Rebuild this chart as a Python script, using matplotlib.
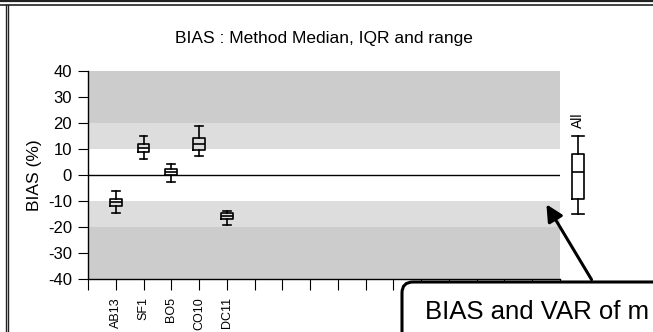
import matplotlib
matplotlib.use("Agg")
import matplotlib.pyplot as plt
from matplotlib.lines import Line2D
from matplotlib.patches import FancyBboxPatch, FancyArrowPatch

plt.rcParams["font.family"] = ["Liberation Sans", "DejaVu Sans"]
plt.rcParams["axes.unicode_minus"] = False

# per-method summaries of BIAS (%)
methods = ["AB13", "SF1", "BO5", "CO10", "DC11"]
medians = [-10.5, 10.4, 1.2, 11.9, -15.8]
q1 = [-12.0, 8.7, 0.1, 9.5, -16.9]
q3 = [-9.2, 12.0, 2.4, 14.2, -14.6]
whislo = [-14.6, 6.2, -2.8, 7.2, -19.1]
whishi = [-6.3, 15.1, 4.2, 18.7, -13.7]

# all methods pooled
all_stats = {"med": 1.3, "q1": -9.1, "q3": 8.2, "whislo": -15.0, "whishi": 15.0}

n_slots = 17
inner_limit = 10
outer_limit = 20
y_max = 40

fig = plt.figure(figsize=(6.53, 3.32), dpi=100)
ax = fig.add_axes([88 / 653, 53 / 332, 472 / 653, 208 / 332])

ax.axhspan(outer_limit, y_max, color="#cccccc", lw=0, zorder=0)
ax.axhspan(-y_max, -outer_limit, color="#cccccc", lw=0, zorder=0)
ax.axhspan(inner_limit, outer_limit, color="#dddddd", lw=0, zorder=0)
ax.axhspan(-outer_limit, -inner_limit, color="#dddddd", lw=0, zorder=0)
ax.axhline(0, color="black", lw=1.0, zorder=1)

stats = [
    {"med": m, "q1": a, "q3": b, "whislo": lo, "whishi": hi, "label": name}
    for name, m, a, b, lo, hi in zip(methods, medians, q1, q3, whislo, whishi)
]
line = dict(color="black", lw=1.2)
ax.bxp(stats, positions=range(1, len(methods) + 1), widths=0.43, capwidths=0.28,
       showfliers=False, boxprops=line, whiskerprops=line, capprops=line,
       medianprops=line, manage_ticks=False)

all_x = 17.66
parts = ax.bxp([all_stats], positions=[all_x], widths=0.43, capwidths=0.43,
               showfliers=False, boxprops=line, whiskerprops=line, capprops=line,
               medianprops=line, manage_ticks=False)
for group in parts.values():
    for artist in group:
        artist.set_clip_on(False)
ax.text(all_x, 18.0, "All", rotation=90, ha="center", va="bottom", fontsize=10,
        clip_on=False)

ax.set_xlim(0, n_slots)
ax.set_ylim(-y_max, y_max)
ax.set_xticks(range(0, n_slots + 1))
ax.set_xticklabels([""] + methods + [""] * (n_slots - len(methods)), rotation=90,
                   fontsize=9)
ax.set_yticks(range(-40, 41, 10))
ax.tick_params(axis="y", length=7.5, width=0.8, pad=4, labelsize=12)
ax.tick_params(axis="x", length=7.7, width=0.8, pad=5.5)
for side in ["top", "right"]:
    ax.spines[side].set_visible(False)
for side in ["left", "bottom"]:
    ax.spines[side].set_linewidth(1.0)
ax.set_ylabel("BIAS (%)", fontsize=12.5, labelpad=4)
ax.set_title("BIAS : Method Median, IQR and range", fontsize=12.5, pad=20)

# page frame
fig.add_artist(Line2D([0, 1], [1 - 1 / 332, 1 - 1 / 332], color="#222222", lw=1.6))
fig.add_artist(Line2D([0, 1], [1 - 5 / 332, 1 - 5 / 332], color="#222222", lw=1.2))
fig.add_artist(Line2D([5.5 / 653, 5.5 / 653], [0, 1 - 5 / 332], color="#222222", lw=1.0))
fig.add_artist(Line2D([7.5 / 653, 7.5 / 653], [0, 1 - 5 / 332], color="#222222", lw=1.0))

# callout
box = FancyBboxPatch((4.02, -1.0), 4.0, 1.5, boxstyle="round,pad=0,rounding_size=0.11",
                     transform=fig.dpi_scale_trans, fc="white", ec="black", lw=2.2,
                     zorder=5)
fig.add_artist(box)
fig.text(4.25, 0.2, "BIAS and VAR of m", transform=fig.dpi_scale_trans,
         fontsize=18.5, va="center", ha="left", zorder=6)
arrow = FancyArrowPatch((5.93, 0.50), (5.45, 1.30), transform=fig.dpi_scale_trans,
                        arrowstyle="-|>,head_length=10,head_width=5", lw=2.2,
                        color="black", mutation_scale=1, zorder=6)
fig.add_artist(arrow)

fig.savefig("out.png", dpi=100)
